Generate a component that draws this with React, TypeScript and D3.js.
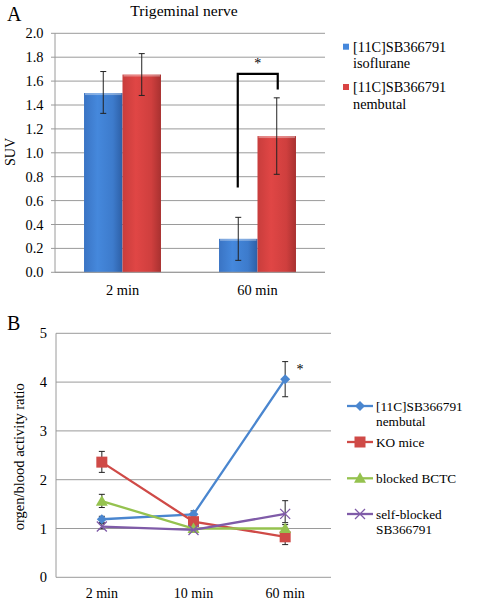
import React from "react";
import * as d3 from "d3";

const barCategories = ["2 min", "60 min"];
const barSeries = ["[11C]SB366791 isoflurane", "[11C]SB366791 nembutal"];
const barValues = [
  [1.5, 0.28],
  [1.655, 1.14],
];
const barErrHigh = [
  [1.68, 0.46],
  [1.83, 1.46],
];
const barErrLow = [
  [1.33, 0.1],
  [1.48, 0.82],
];
const barTicks = [0, 0.2, 0.4, 0.6, 0.8, 1.0, 1.2, 1.4, 1.6, 1.8, 2.0];

const lineCategories = ["2 min", "10 min", "60 min"];
const lineSeriesNames = ["[11C]SB366791 nembutal", "KO mice", "blocked BCTC", "self-blocked SB366791"];
const lineNembutal = [1.19, 1.29, 4.06];
const lineKO = [2.36, 1.14, 0.83];
const lineBCTC = [1.56, 1.0, 1.0];
const lineSelf = [1.04, 0.97, 1.3];
const errNembutalHi = [1.25, 1.36, 4.42];
const errNembutalLo = [1.12, 1.22, 3.7];
const errKOHi = [2.58, 1.2, 0.95];
const errKOLo = [2.15, 1.08, 0.67];
const errBCTCHi = [1.7, 1.05, 1.08];
const errBCTCLo = [1.43, 0.93, 0.95];
const errSelfHi = [1.1, 1.0, 1.57];
const errSelfLo = [0.99, 0.93, 1.12];
const lineTicks = [0, 1, 2, 3, 4, 5];

const FONT = '"Liberation Serif", "Times New Roman", Times, serif';
const lineColors = ["#4a86cf", "#cf4a47", "#95c24f", "#7f5ba8"];

function T(props: any) {
  const { children, style, ...rest } = props;
  return (
    <text {...rest} style={{ fontFamily: FONT, ...(style || {}) }}>
      {children}
    </text>
  );
}

function Marker({ kind, x, y, color }: { kind: number; x: number; y: number; color: string }) {
  if (kind === 0) {
    const s = 5;
    return <path d={`M${x},${y - s}L${x + s},${y}L${x},${y + s}L${x - s},${y}Z`} fill={color} />;
  }
  if (kind === 1) {
    return <rect x={x - 5.5} y={y - 5.5} width={11} height={11} fill={color} />;
  }
  if (kind === 2) {
    return <path d={`M${x},${y - 6}L${x + 6},${y + 4.5}L${x - 6},${y + 4.5}Z`} fill={color} />;
  }
  const s = 5;
  return (
    <path
      d={`M${x - s},${y - s}L${x + s},${y + s}M${x - s},${y + s}L${x + s},${y - s}`}
      stroke={color}
      strokeWidth={1.3}
      fill="none"
    />
  );
}

export default function App() {
  // Chart A
  const aL = 55, aR = 325, aT = 33.3, aB = 272.3;
  const xA = d3.scaleBand().domain(barCategories).range([aL, aR]).paddingInner(0.43).paddingOuter(0.215);
  const yA = d3.scaleLinear().domain([0, 2]).range([aB, aT]);
  const bw = xA.bandwidth() / 2;
  const barFills = ["url(#gBlue)", "url(#gRed)"];

  // Chart B
  const bL = 56, bR = 331, bT = 333.3, bB = 577.3;
  const xB = d3.scalePoint().domain(lineCategories).range([bL, bR]).padding(0.5);
  const yB = d3.scaleLinear().domain([0, 5]).range([bB, bT]);
  const series = [lineNembutal, lineKO, lineBCTC, lineSelf];
  const hi = [errNembutalHi, errKOHi, errBCTCHi, errSelfHi];
  const lo = [errNembutalLo, errKOLo, errBCTCLo, errSelfLo];
  const lineGen = d3
    .line<number>()
    .x((_, i) => xB(lineCategories[i]) as number)
    .y((d) => yB(d));

  const legendAY = [46.7, 87];
  const legendBY = [406, 442, 478.3, 514];
  const legendBText = [["[11C]SB366791", "nembutal"], ["KO mice"], ["blocked BCTC"], ["self-blocked", "SB366791"]];

  return (
    <svg width={484} height={600} style={{ position: "absolute", left: 0, top: 0, background: "#fff", fontFamily: FONT }}>
      <defs>
        <linearGradient id="gBlue" x1="0" x2="1" y1="0" y2="0">
          <stop offset="0" stopColor="#3a74c4" />
          <stop offset="0.35" stopColor="#4588dc" />
          <stop offset="0.75" stopColor="#3d7bcc" />
          <stop offset="1" stopColor="#2d5fa6" />
        </linearGradient>
        <linearGradient id="gRed" x1="0" x2="1" y1="0" y2="0">
          <stop offset="0" stopColor="#c83d3c" />
          <stop offset="0.35" stopColor="#e04645" />
          <stop offset="0.75" stopColor="#cf3f3e" />
          <stop offset="1" stopColor="#a83130" />
        </linearGradient>
      </defs>
      <rect x={0} y={0} width={484} height={600} fill="#fff" />

      {/* Chart A */}
      <T x={7} y={21} fontSize={20}>A</T>
      <T x={184} y={16} fontSize={15.6} textAnchor="middle">Trigeminal nerve</T>
      {barTicks.map((t) => (
        <g key={"ga" + t}>
          <line x1={aL} x2={aR} y1={yA(t)} y2={yA(t)} stroke="#9a9a9a" strokeWidth={1} />
          <line x1={aL - 4} x2={aL} y1={yA(t)} y2={yA(t)} stroke="#9a9a9a" />
          <T x={43.5} y={yA(t) + 5} fontSize={14.4} textAnchor="end">{t.toFixed(1)}</T>
        </g>
      ))}
      <line x1={aL} x2={aL} y1={aT} y2={aB} stroke="#9a9a9a" />
      <T transform={`translate(15,152) rotate(-90)`} fontSize={14} textAnchor="middle">SUV</T>
      {barSeries.map((s, si) =>
        barCategories.map((c, ci) => {
          const x0 = (xA(c) as number) + si * bw;
          const v = barValues[si][ci];
          const xc = x0 + bw / 2;
          return (
            <g key={s + c}>
              <rect x={x0} y={yA(v)} width={bw} height={aB - yA(v)} fill={barFills[si]} />
              <rect x={x0 + 1} y={yA(v)} width={bw - 2} height={2} fill="#ffffff" opacity={0.35} />
              <line x1={xc} x2={xc} y1={yA(barErrHigh[si][ci])} y2={yA(barErrLow[si][ci])} stroke="#222" strokeWidth={1} />
              <line x1={xc - 3} x2={xc + 3} y1={yA(barErrHigh[si][ci])} y2={yA(barErrHigh[si][ci])} stroke="#222" />
              <line x1={xc - 3} x2={xc + 3} y1={yA(barErrLow[si][ci])} y2={yA(barErrLow[si][ci])} stroke="#222" />
            </g>
          );
        })
      )}
      <line x1={aL} x2={aR} y1={aB} y2={aB} stroke="#9a9a9a" />
      {barCategories.map((c) => (
        <T key={c} x={(xA(c) as number) + xA.bandwidth() / 2} y={295} fontSize={14.4} textAnchor="middle">{c}</T>
      ))}
      {(() => {
        const xl = (xA("60 min") as number) + bw / 2 - 0.5;
        const xr = (xA("60 min") as number) + bw * 1.5 + 1;
        return (
          <g>
            <path
              d={`M${xl},${yA(0.71)}L${xl},${yA(1.66)}L${xr},${yA(1.66)}L${xr},${yA(1.53)}`}
              fill="none"
              stroke="#000"
              strokeWidth={2.2}
            />
            <T x={(xl + xr) / 2} y={yA(1.7) - 1} fontSize={14} textAnchor="middle">*</T>
          </g>
        );
      })()}
      {barSeries.map((s, si) => {
        const parts = s.split(" ");
        return (
          <g key={"la" + s}>
            <rect x={343} y={legendAY[si] - 3} width={6} height={6} fill={si === 0 ? "#4588dc" : "#d94443"} />
            <T x={353} y={legendAY[si] + 5} fontSize={14.3}>{parts[0]}</T>
            <T x={353} y={legendAY[si] + 21.5} fontSize={14.3}>{parts[1]}</T>
          </g>
        );
      })}

      {/* Chart B */}
      <T x={7} y={330} fontSize={20}>B</T>
      {lineTicks.map((t) => (
        <g key={"gb" + t}>
          {t > 0 && <line x1={bL} x2={bR} y1={yB(t)} y2={yB(t)} stroke="#9a9a9a" strokeWidth={1} />}
          <T x={47} y={yB(t) + 5} fontSize={14.5} textAnchor="end">{t}</T>
        </g>
      ))}
      <line x1={bL} x2={bL} y1={bT} y2={bB} stroke="#9a9a9a" />
      <line x1={bL} x2={bR} y1={bB} y2={bB} stroke="#9a9a9a" />
      <T transform={`translate(24,456.7) rotate(-90)`} fontSize={14.5} textAnchor="middle">orgen/blood activity ratio</T>
      {series.map((s, si) => (
        <g key={"err" + si}>
          {s.map((_, i) => {
            const x = xB(lineCategories[i]) as number;
            return (
              <g key={i}>
                <line x1={x} x2={x} y1={yB(hi[si][i])} y2={yB(lo[si][i])} stroke="#222" />
                <line x1={x - 3} x2={x + 3} y1={yB(hi[si][i])} y2={yB(hi[si][i])} stroke="#222" />
                <line x1={x - 3} x2={x + 3} y1={yB(lo[si][i])} y2={yB(lo[si][i])} stroke="#222" />
              </g>
            );
          })}
        </g>
      ))}
      {series.map((s, si) => (
        <g key={"ln" + si}>
          <path d={lineGen(s) as string} fill="none" stroke={lineColors[si]} strokeWidth={2.3} />
          {s.map((v, i) => (
            <Marker key={i} kind={si} x={xB(lineCategories[i]) as number} y={yB(v)} color={lineColors[si]} />
          ))}
        </g>
      ))}
      <T x={300} y={yB(4.2) + 2} fontSize={14} textAnchor="middle">*</T>
      {lineCategories.map((c) => (
        <T key={c} x={xB(c) as number} y={598} fontSize={14} textAnchor="middle">{c}</T>
      ))}
      {lineSeriesNames.map((n, si) => (
        <g key={"lb" + n}>
          <line x1={347} x2={373} y1={legendBY[si]} y2={legendBY[si]} stroke={lineColors[si]} strokeWidth={2.3} />
          <Marker kind={si} x={360} y={legendBY[si]} color={lineColors[si]} />
          {legendBText[si].map((t, k) => (
            <T key={k} x={376} y={legendBY[si] + 5 + k * 15.3} fontSize={13.3}>{t}</T>
          ))}
        </g>
      ))}
    </svg>
  );
}
